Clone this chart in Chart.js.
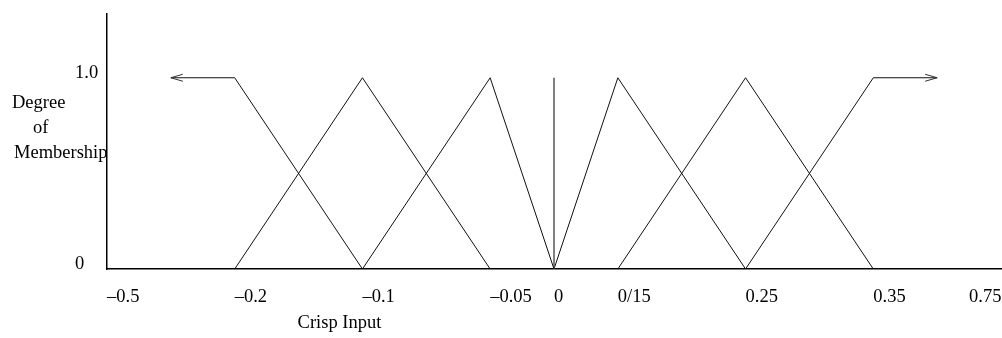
<!DOCTYPE html>
<html><head><meta charset="utf-8">
<script src="https://cdn.jsdelivr.net/npm/chart.js@4"></script>
<style>html,body{margin:0;padding:0;background:#fff}#wrap{width:1002px;height:338px;position:relative}</style>
</head><body><div id="wrap"><canvas id="c" width="1002" height="338"></canvas></div>
<script>
// Tick positions (evenly spaced slots on the drawing) and their labels
const tickPositions = [0, 2, 4, 6, 7, 8, 10, 12, 13.5];
const tickLabels = ['–0.5', '–0.2', '–0.1', '–0.05', '0', '0/15', '0.25', '0.35', '0.75'];
const yTickValues = [0, 1];
const yTickLabels = ['0', '1.0'];
const xTitle = 'Crisp Input';
const yTitleLines = ['Degree', 'of', 'Membership'];

// Membership functions (x in slot units, y membership degree)
const leftShoulderX = [1, 2, 4];       const leftShoulderY = [1, 1, 0];
const tri1X = [2, 4, 6];               const tri1Y = [0, 1, 0];
const tri2X = [4, 6, 7];               const tri2Y = [0, 1, 0];
const zeroX = [7, 7];                  const zeroY = [0, 1];
const tri3X = [7, 8, 10];              const tri3Y = [0, 1, 0];
const tri4X = [8, 10, 12];             const tri4Y = [0, 1, 0];
const rightShoulderX = [10, 12, 13];   const rightShoulderY = [0, 1, 1];

function pts(xs, ys) { return xs.map((x, i) => ({x, y: ys[i]})); }
const series = [
  pts(leftShoulderX, leftShoulderY), pts(tri1X, tri1Y), pts(tri2X, tri2Y),
  pts(zeroX, zeroY), pts(tri3X, tri3Y), pts(tri4X, tri4Y), pts(rightShoulderX, rightShoulderY)
];

const FONT = '18.5px "Liberation Serif", "DejaVu Serif", serif';

const textPlugin = {
  id: 'textPlugin',
  afterDraw(chart) {
    const ctx = chart.ctx, xs = chart.scales.x, ys = chart.scales.y;
    ctx.save();
    ctx.fillStyle = '#000';
    ctx.font = FONT;
    ctx.textBaseline = 'alphabetic';
    ctx.textAlign = 'left';
    const base = ys.getPixelForValue(0);
    tickPositions.forEach((p, i) => {
      ctx.fillText(tickLabels[i], xs.getPixelForValue(p), base + 33);
    });
    yTickValues.forEach((v, i) => {
      ctx.fillText(yTickLabels[i], xs.left - 32, ys.getPixelForValue(v));
    });
    ctx.fillText(xTitle, xs.getPixelForValue(3) - 1, base + 59);
    const offs = [12, 33, 14];
    yTitleLines.forEach((t, i) => ctx.fillText(t, offs[i], 108 + 25 * i));
    // arrowheads
    ctx.strokeStyle = '#333';
    ctx.lineWidth = 1;
    const y1 = ys.getPixelForValue(1);
    const lx = xs.getPixelForValue(leftShoulderX[0]);
    const rx = xs.getPixelForValue(rightShoulderX[rightShoulderX.length - 1]);
    ctx.beginPath();
    ctx.moveTo(lx + 12, y1 - 3.5); ctx.lineTo(lx, y1); ctx.lineTo(lx + 12, y1 + 3.5);
    ctx.moveTo(rx - 12, y1 - 3.5); ctx.lineTo(rx, y1); ctx.lineTo(rx - 12, y1 + 3.5);
    ctx.stroke();
    ctx.restore();
  }
};

new Chart(document.getElementById('c'), {
  type: 'scatter',
  data: {
    datasets: series.map((d, i) => ({
      data: d,
      showLine: true,
      borderColor: (i === 3) ? '#555' : '#111',
      borderWidth: (i === 3) ? 1.5 : 1,
      pointRadius: 0,
      fill: false,
      tension: 0
    }))
  },
  options: {
    responsive: false,
    animation: false,
    events: [],
    layout: { padding: { top: 14, right: 1, left: 0, bottom: 0 } },
    plugins: { legend: { display: false }, tooltip: { enabled: false } },
    scales: {
      x: {
        type: 'linear', min: 0, max: 14,
        grid: { display: false, drawTicks: false },
        border: { display: true, color: '#000', width: 1.5 },
        ticks: { display: false },
        afterFit(s) { s.height = 69; }
      },
      y: {
        type: 'linear', min: 0, max: 4 / 3,
        grid: { display: false, drawTicks: false },
        border: { display: true, color: '#000', width: 1.5 },
        ticks: { display: false },
        afterFit(s) { s.width = 107; }
      }
    }
  },
  plugins: [textPlugin]
});
</script></body></html>
